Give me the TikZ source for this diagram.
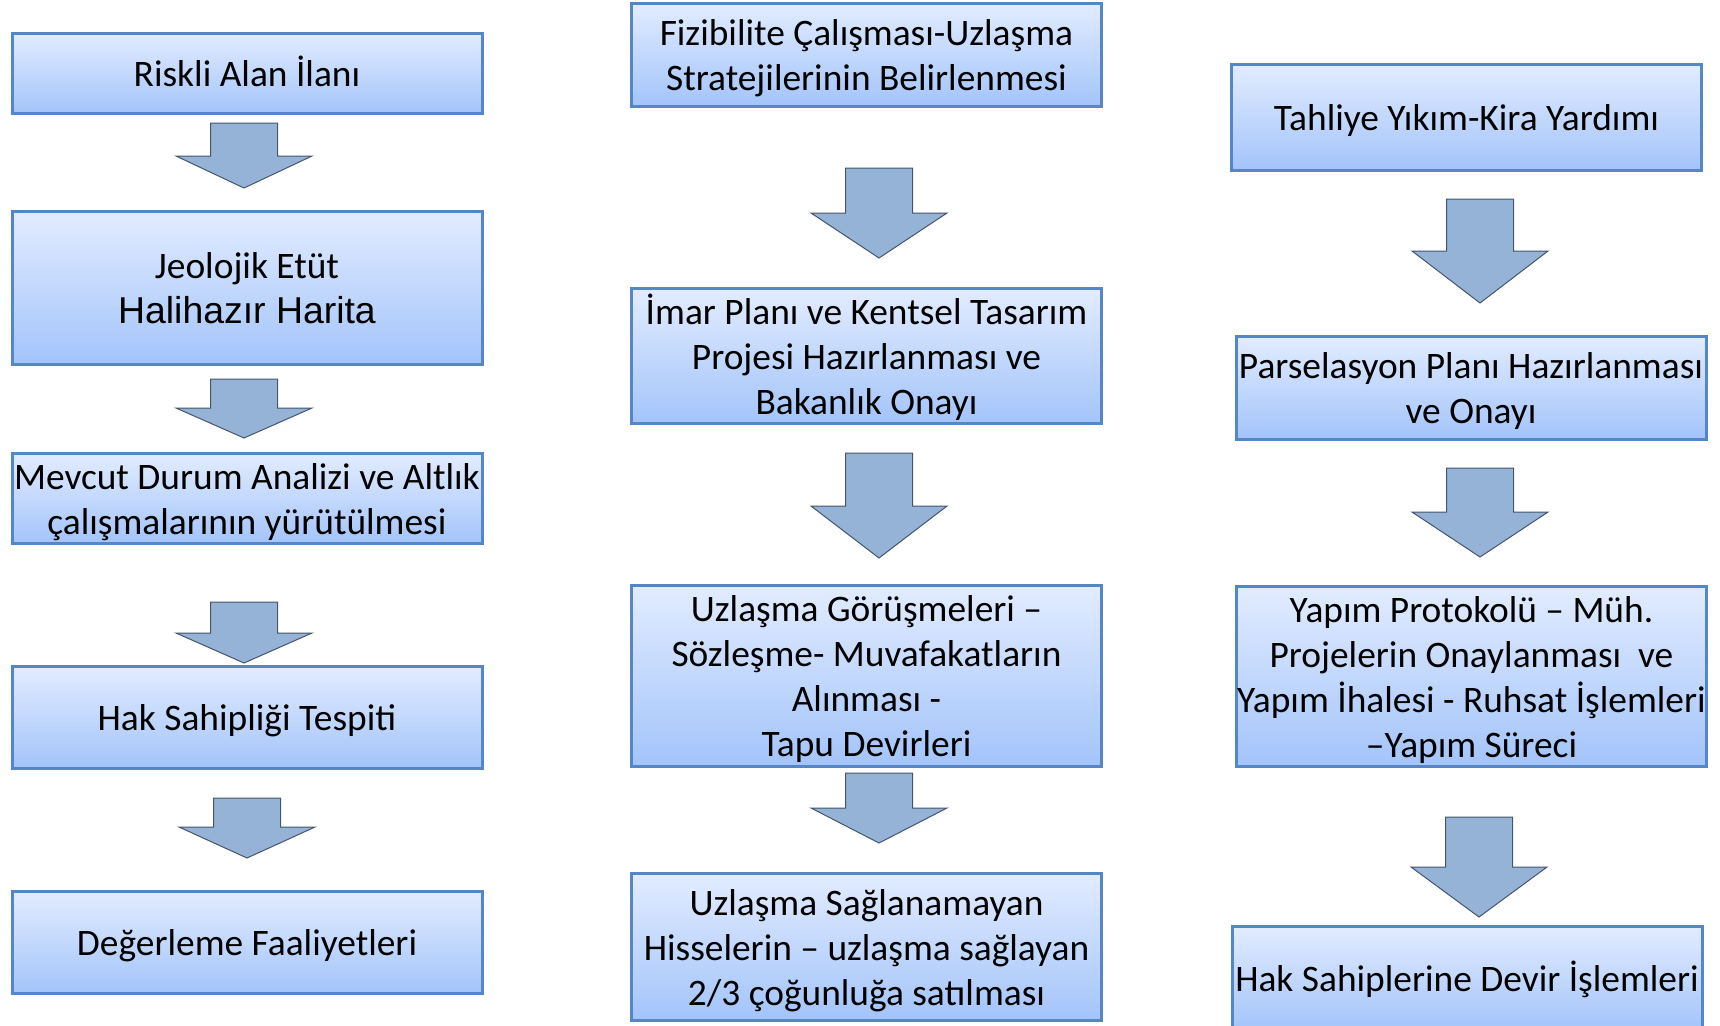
\documentclass[tikz,border=0pt]{standalone}
\usepackage{fontspec}
\setmainfont{Carlito}
\newfontfamily\arialfont{Liberation Sans}
\usepackage{tikz}
\usetikzlibrary{positioning}
\definecolor{boxTop}{RGB}{226, 236, 255}
\definecolor{boxBottom}{RGB}{163, 196, 250}
\definecolor{boxLine}{RGB}{84, 134, 200}
\definecolor{arrowFill}{RGB}{149, 179, 215}
\definecolor{arrowLine}{RGB}{70, 85, 105}
\newcommand{\boxstrut}{\rule{0pt}{18pt}}
\tikzset{
    stage/.style={draw=boxLine, line width=1.5pt, top color=boxTop, bottom color=boxBottom,
        minimum width=235pt, align=center, inner sep=0pt,
        font=\fontsize{18.7}{22.5}\selectfont,
        execute at begin node={\boxstrut},
        execute at end node={\rule[-4.5pt]{0pt}{0pt}}},
    blockarrow/.style={fill=arrowFill, draw=arrowLine, line width=0.5pt}
}
\begin{document}
\begin{tikzpicture}[x=0.5pt, y=-0.5pt]
        \useasboundingbox (0,0) rectangle (1720,1025);

        % 1. sütun
        \node[stage, minimum height=40pt] (riskli) at (247,73) {Riskli Alan İlanı};
        \node[stage, minimum height=76.5pt] (jeoloji) at (247,287.5) {\boxstrut Jeolojik Etüt\\{\arialfont Halihazır Harita}};
        \node[stage, minimum height=44.5pt] (mevcut) at (247,498.5) {\boxstrut Mevcut Durum Analizi ve Altlık\\çalışmalarının yürütülmesi};
        \node[stage, minimum height=51pt] (haksahip) at (247,717) {Hak Sahipliği Tespiti};
        \node[stage, minimum height=51pt] (degerleme) at (247,942) {Değerleme Faaliyetleri};

        % 2. sütun
        \node[stage, minimum height=51.5pt] (fizibilite) at (866.5,54.5) {\boxstrut Fizibilite Çalışması-Uzlaşma\\Stratejilerinin Belirlenmesi};
        \node[stage, minimum height=67pt] (imar) at (866.5,356) {\boxstrut İmar Planı ve Kentsel Tasarım\\Projesi Hazırlanması ve\\Bakanlık Onayı};
        \node[stage, minimum height=90.5pt] (uzlasma) at (866.5,675.5) {\boxstrut Uzlaşma Görüşmeleri –\\Sözleşme- Muvafakatların\\Alınması -\\Tapu Devirleri};
        \node[stage, minimum height=73.5pt] (satis) at (866.5,946.5) {\boxstrut Uzlaşma Sağlanamayan\\Hisselerin – uzlaşma sağlayan\\2/3 çoğunluğa satılması};

        % 3. sütun
        \node[stage, minimum height=53pt] (tahliye) at (1466.5,117) {Tahliye Yıkım-Kira Yardımı};
        \node[stage, minimum height=51.5pt] (parsel) at (1471,387.5) {\boxstrut Parselasyon Planı Hazırlanması\\ve Onayı};
        \node[stage, minimum height=90pt] (yapim) at (1471.5,676) {\boxstrut Yapım Protokolü – Müh.\\Projelerin Onaylanması \ ve\\Yapım İhalesi - Ruhsat İşlemleri\\–Yapım Süreci};
        \node[stage, minimum height=52pt] (devir) at (1467,978) {Hak Sahiplerine Devir İşlemleri};

        % blok oklar (merkez x / üst / kanat / uç)
        \foreach \cx/\ty/\wy/\py in {244/123/156/188, 244/379/408/438, 244/602/633/663, 247/798/827/858,
                879/168/213/258, 879/453/506/558, 879/773/808/843,
                1480/199/251/303, 1480/468/512/557, 1479/817/867/917} {
            \draw[blockarrow] ({\cx-33.5},\ty) -- ({\cx+33.5},\ty) -- ({\cx+33.5},\wy) -- ({\cx+68},\wy)
                -- (\cx,\py) -- ({\cx-68},\wy) -- ({\cx-33.5},\wy) -- cycle;
        }
    \end{tikzpicture}
\end{document}
